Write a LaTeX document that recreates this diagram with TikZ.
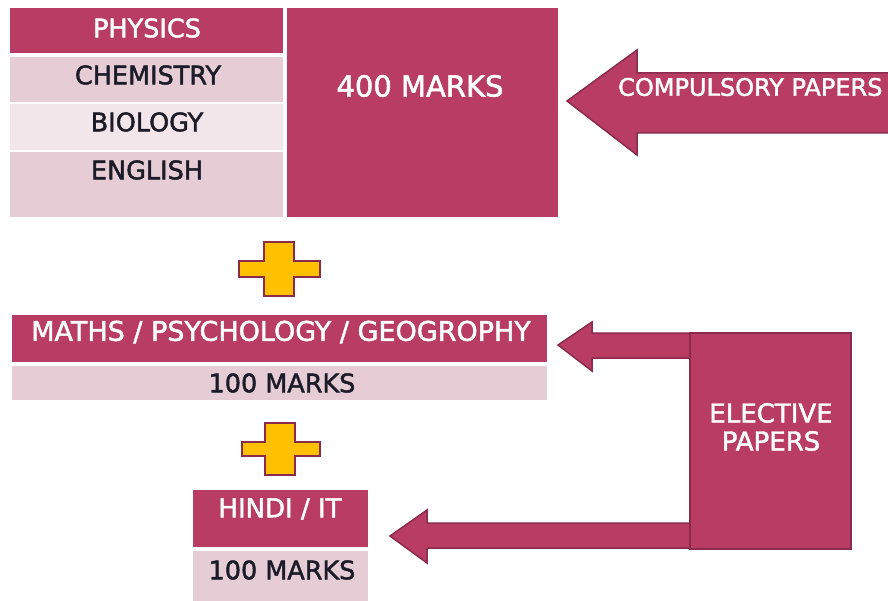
\documentclass[tikz,border=0pt]{standalone}
\usepackage{fontspec}
\setmainfont{DejaVu Sans}[FakeBold=1.8, AutoFakeBold=1.8]
\definecolor{rasp}{HTML}{B83C64}
\definecolor{lightp}{HTML}{E6CDD5}
\definecolor{paler}{HTML}{F3E6EA}
\definecolor{darkrim}{HTML}{8A2A4C}
\definecolor{gold}{HTML}{FFC000}
\definecolor{ink}{HTML}{1C1C28}
\tikzset{
  cellbox/.style={draw=none, inner sep=0pt, anchor=north west},
  darkcell/.style={cellbox, fill=rasp},
  lightcell/.style={cellbox, fill=lightp},
  palecell/.style={cellbox, fill=paler},
  wlabel/.style={text=white, inner sep=0pt, font=\fontsize{#1}{#1}\selectfont\bfseries},
  klabel/.style={text=ink, inner sep=0pt, font=\fontsize{#1}{#1}\selectfont\bfseries},
  blockarrow/.style={fill=rasp, draw=darkrim, line width=1.5pt, line join=miter},
  plusshape/.style={fill=gold, draw=darkrim, line width=2.5pt, line join=miter}
}
\begin{document}
\begin{tikzpicture}[x=1pt,y=-1pt]
\useasboundingbox (0,0) rectangle (888,601);
% top table
\node[darkcell, minimum width=273pt, minimum height=45pt] (phys) at (10,8) {};
\node[lightcell, minimum width=273pt, minimum height=45pt] (chem) at (10,57) {};
\node[palecell, minimum width=273pt, minimum height=46pt] (bio) at (10,104) {};
\node[lightcell, minimum width=273pt, minimum height=65pt] (eng) at (10,152) {};
\node[darkcell, minimum width=271pt, minimum height=209pt] (m400) at (287,8) {};
\node[wlabel=25.5] (tphys) at (147,28) {PHYSICS};
\node[klabel=25.5] (tchem) at (148,75) {CHEMISTRY};
\node[klabel=25.5] (tbio) at (147,122) {BIOLOGY};
\node[klabel=25.5] (teng) at (147,170) {ENGLISH};
\node[wlabel=29] (t400) at (420,86) {400 MARKS};
% compulsory arrow
\draw[blockarrow] (567,101) -- (637,50) -- (637,73) -- (895,73) -- (895,133) -- (637,133) -- (637,155) -- cycle;
\node[wlabel=24, anchor=west] (tcomp) at (618,87) {COMPULSORY PAPERS};
% plus 1
\draw[plusshape] (264,242) -- (294,242) -- (294,261) -- (320,261) -- (320,277) -- (294,277) -- (294,296) -- (264,296) -- (264,277) -- (239,277) -- (239,261) -- (264,261) -- cycle;
% maths row
\node[darkcell, minimum width=535pt, minimum height=47pt] (maths) at (12,315) {};
\node[lightcell, minimum width=535pt, minimum height=34pt] (m100a) at (12,366) {};
\node[wlabel=27] (tmaths) at (281,332) {MATHS / PSYCHOLOGY / GEOGROPHY};
\node[klabel=25.5] (tm100a) at (282,383) {100 MARKS};
% plus 2
\draw[plusshape] (265,423) -- (295,423) -- (295,442) -- (320,442) -- (320,456) -- (295,456) -- (295,475) -- (265,475) -- (265,456) -- (242,456) -- (242,442) -- (265,442) -- cycle;
% hindi row
\node[darkcell, minimum width=175pt, minimum height=57pt] (hindi) at (193,490) {};
\node[lightcell, minimum width=175pt, minimum height=50pt] (m100b) at (193,551) {};
\node[wlabel=26] (thindi) at (280,509) {HINDI / IT};
\node[klabel=25.5] (tm100b) at (282,570) {100 MARKS};
% elective arrows
\draw[blockarrow] (558,345) -- (592,322) -- (592,333) -- (690,333) -- (690,358) -- (592,358) -- (592,371) -- cycle;
\draw[blockarrow] (390,536) -- (427,510) -- (427,523) -- (690,523) -- (690,548) -- (427,548) -- (427,563) -- cycle;
\node[draw=darkrim, line width=1.5pt, fill=rasp, inner sep=0pt, anchor=north west, minimum width=161pt, minimum height=216pt] (elect) at (689,332) {};
\node[wlabel=26, align=center, font=\fontsize{26}{28}\selectfont\bfseries] (telect) at (771,427) {ELECTIVE\\PAPERS};
\end{tikzpicture}
\end{document}
